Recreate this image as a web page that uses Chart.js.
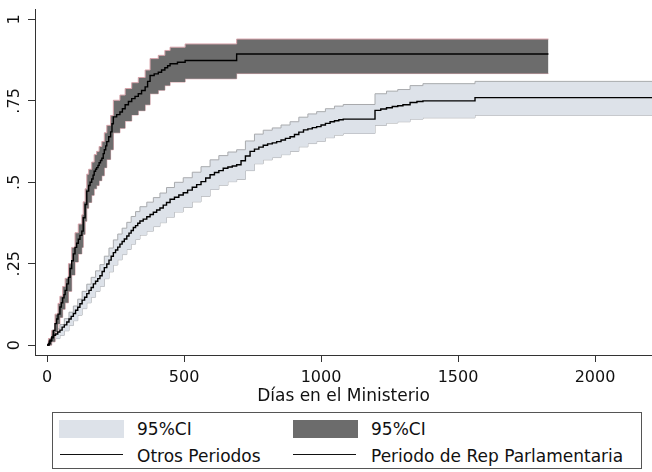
<!DOCTYPE html>
<html>
<head>
<meta charset="utf-8">
<script src="https://cdn.jsdelivr.net/npm/chart.js@4.4.1/dist/chart.umd.min.js"></script>
<style>
  html, body { margin: 0; padding: 0; background: #fff; }
  #wrap { position: relative; width: 652px; height: 472px; }
  #plot { position: absolute; left: 0; top: 0; }
  #legend {
    position: absolute; left: 52px; top: 412px; width: 590px; height: 57px;
    box-sizing: border-box; border: 1px solid #555;
    font-family: "DejaVu Sans", "Liberation Sans", sans-serif;
    font-size: 17px; color: #111;
  }
  #legend .sw { position: absolute; width: 65px; height: 18px; top: 7px; }
  #legend .ln { position: absolute; width: 63px; height: 0; top: 41px; border-top: 1.5px solid #111; }
  #legend .tx { position: absolute; line-height: 20px; white-space: nowrap; letter-spacing: 0; }
</style>
</head>
<body>
<div id="wrap">
  <canvas id="plot" width="652" height="410"></canvas>
  <div id="legend">
    <div class="sw" style="left:6px;background:#dde2e9;"></div>
    <div class="tx" style="left:84px;top:6px;">95%CI</div>
    <div class="sw" style="left:240px;background:#6c6c6c;"></div>
    <div class="tx" style="left:318px;top:6px;">95%CI</div>
    <div class="ln" style="left:7px;"></div>
    <div class="tx" style="left:84px;top:33px;">Otros Periodos</div>
    <div class="ln" style="left:240px;"></div>
    <div class="tx" style="left:318px;top:33px;">Periodo de Rep Parlamentaria</div>
  </div>
</div>
<script>
// tick labels
const xTicks = [0, 500, 1000, 1500, 2000];
const yTicks = [0, 0.25, 0.5, 0.75, 1];
const yTickLabels = ['0', '.25', '.5', '.75', '1'];

// Periodo de Rep Parlamentaria: estimate line
const repDays = [0, 5, 11, 17, 23, 29, 35, 40, 47, 52, 57, 62, 66, 72, 78, 84, 90, 96, 102, 108, 114, 120, 127, 132, 139, 145, 152, 157, 163, 168, 172, 177, 181, 186, 190, 195, 200, 205, 209, 214, 218, 225, 232, 237, 242, 254, 266, 275, 285, 297, 309, 321, 333, 345, 358, 367, 376, 391, 406, 418, 430, 440, 449, 476, 504, 692, 1830];
const repFail = [0, 0.005, 0.015, 0.025, 0.045, 0.066, 0.080, 0.095, 0.117, 0.130, 0.145, 0.155, 0.168, 0.188, 0.208, 0.235, 0.259, 0.280, 0.300, 0.313, 0.325, 0.337, 0.350, 0.391, 0.432, 0.473, 0.490, 0.500, 0.510, 0.522, 0.534, 0.540, 0.545, 0.552, 0.560, 0.567, 0.574, 0.588, 0.600, 0.612, 0.625, 0.640, 0.655, 0.680, 0.701, 0.708, 0.716, 0.726, 0.738, 0.748, 0.757, 0.764, 0.772, 0.782, 0.793, 0.810, 0.828, 0.833, 0.838, 0.845, 0.852, 0.858, 0.864, 0.869, 0.874, 0.894, 0.894];
// its 95% band
const repBandDays = [0, 5, 17, 29, 40, 47, 57, 66, 78, 90, 102, 114, 127, 132, 139, 145, 152, 163, 172, 181, 190, 200, 209, 218, 232, 242, 266, 285, 309, 333, 358, 376, 406, 430, 449, 504, 692, 1830];
const repLo = [0, 0, 0.010, 0.040, 0.065, 0.085, 0.110, 0.130, 0.165, 0.215, 0.255, 0.280, 0.300, 0.340, 0.380, 0.420, 0.438, 0.460, 0.480, 0.490, 0.505, 0.520, 0.545, 0.570, 0.600, 0.652, 0.666, 0.688, 0.707, 0.720, 0.738, 0.772, 0.783, 0.797, 0.808, 0.818, 0.834, 0.834];
const repHi = [0, 0.020, 0.045, 0.095, 0.128, 0.150, 0.180, 0.205, 0.250, 0.300, 0.345, 0.372, 0.400, 0.440, 0.480, 0.525, 0.540, 0.562, 0.585, 0.595, 0.610, 0.625, 0.652, 0.675, 0.705, 0.752, 0.768, 0.788, 0.806, 0.822, 0.845, 0.880, 0.890, 0.905, 0.915, 0.925, 0.940, 0.940];

// Otros Periodos
const otrDays = [0, 8, 16, 23, 31, 39, 47, 55, 63, 72, 80, 88, 96, 104, 112, 120, 128, 137, 145, 153, 161, 169, 177, 185, 193, 201, 209, 218, 226, 234, 242, 250, 258, 266, 274, 282, 291, 299, 307, 315, 323, 331, 339, 351, 364, 376, 388, 400, 412, 424, 436, 449, 465, 481, 497, 513, 530, 546, 562, 579, 595, 611, 627, 643, 660, 676, 692, 708, 724, 741, 757, 773, 789, 805, 822, 838, 854, 870, 887, 903, 919, 936, 952, 968, 984, 1000, 1016, 1033, 1049, 1065, 1081, 1197, 1218, 1239, 1260, 1280, 1299, 1325, 1350, 1372, 1562, 2208];
const otrFail = [0, 0.012, 0.022, 0.030, 0.034, 0.040, 0.046, 0.055, 0.062, 0.071, 0.080, 0.088, 0.097, 0.107, 0.116, 0.127, 0.138, 0.147, 0.158, 0.168, 0.177, 0.188, 0.196, 0.204, 0.213, 0.226, 0.238, 0.249, 0.261, 0.273, 0.284, 0.292, 0.301, 0.310, 0.318, 0.326, 0.335, 0.344, 0.352, 0.361, 0.367, 0.374, 0.381, 0.387, 0.394, 0.401, 0.408, 0.415, 0.421, 0.430, 0.438, 0.448, 0.454, 0.461, 0.468, 0.476, 0.485, 0.493, 0.502, 0.513, 0.523, 0.530, 0.536, 0.543, 0.547, 0.550, 0.554, 0.566, 0.581, 0.595, 0.602, 0.608, 0.614, 0.618, 0.621, 0.625, 0.630, 0.635, 0.640, 0.647, 0.654, 0.661, 0.664, 0.668, 0.671, 0.676, 0.681, 0.686, 0.689, 0.692, 0.694, 0.721, 0.725, 0.729, 0.733, 0.735, 0.738, 0.745, 0.748, 0.750, 0.760, 0.760];
const otrBandDays = [0, 16, 31, 47, 63, 80, 96, 112, 128, 145, 161, 177, 193, 209, 226, 242, 258, 274, 291, 307, 323, 339, 364, 388, 412, 436, 465, 497, 530, 562, 595, 627, 660, 692, 724, 757, 789, 822, 854, 887, 919, 952, 984, 1016, 1049, 1081, 1197, 1239, 1280, 1325, 1372, 1562, 2208];
const otrLo = [0, 0.012, 0.020, 0.030, 0.044, 0.060, 0.075, 0.092, 0.112, 0.130, 0.147, 0.165, 0.180, 0.204, 0.225, 0.246, 0.262, 0.278, 0.294, 0.310, 0.325, 0.338, 0.350, 0.364, 0.376, 0.393, 0.409, 0.423, 0.440, 0.457, 0.478, 0.491, 0.502, 0.509, 0.536, 0.557, 0.569, 0.576, 0.585, 0.595, 0.609, 0.619, 0.626, 0.637, 0.645, 0.650, 0.675, 0.682, 0.686, 0.694, 0.698, 0.706, 0.706];
const otrHi = [0, 0.034, 0.050, 0.063, 0.081, 0.101, 0.120, 0.141, 0.165, 0.187, 0.208, 0.228, 0.247, 0.273, 0.298, 0.323, 0.341, 0.359, 0.377, 0.395, 0.410, 0.425, 0.439, 0.453, 0.467, 0.484, 0.500, 0.514, 0.531, 0.548, 0.569, 0.582, 0.593, 0.600, 0.627, 0.648, 0.660, 0.667, 0.676, 0.686, 0.700, 0.710, 0.717, 0.726, 0.734, 0.739, 0.772, 0.780, 0.785, 0.797, 0.803, 0.810, 0.810];

const pts = (xs, ys) => xs.map((x, i) => ({ x: x, y: ys[i] }));

Chart.defaults.font.family = '"DejaVu Sans", "Liberation Sans", sans-serif';
Chart.defaults.color = '#111';

const lineBase = { stepped: 'before', pointRadius: 0, tension: 0, fill: false };

new Chart(document.getElementById('plot'), {
  type: 'line',
  data: {
    datasets: [
      Object.assign({ label: 'Periodo de Rep Parlamentaria', data: pts(repDays, repFail), borderColor: '#000', borderWidth: 1.4 }, lineBase),
      Object.assign({ label: 'Otros Periodos', data: pts(otrDays, otrFail), borderColor: '#000', borderWidth: 1.4 }, lineBase),
      Object.assign({}, lineBase, { label: '95%CI rep hi', data: pts(repBandDays, repHi), borderColor: '#d7a3aa', borderWidth: 1, backgroundColor: '#6c6c6c', fill: '+1' }),
      Object.assign({ label: '95%CI rep lo', data: pts(repBandDays, repLo), borderColor: '#d7a3aa', borderWidth: 1 }, lineBase),
      Object.assign({}, lineBase, { label: '95%CI otros hi', data: pts(otrBandDays, otrHi), borderColor: '#a9abae', borderWidth: 1, backgroundColor: '#dde2e9', fill: '+1' }),
      Object.assign({ label: '95%CI otros lo', data: pts(otrBandDays, otrLo), borderColor: '#a9abae', borderWidth: 1 }, lineBase)
    ]
  },
  options: {
    responsive: false,
    animation: false,
    layout: { padding: { top: 7, right: 0, bottom: 0, left: 0 } },
    plugins: { legend: { display: false }, tooltip: { enabled: false } },
    scales: {
      x: {
        type: 'linear',
        min: -44, max: 2208,
        afterBuildTicks: s => { s.ticks = xTicks.map(v => ({ value: v })); },
        afterFit: s => { s.height = 55; },
        grid: { drawOnChartArea: false, drawTicks: true, tickLength: 7, color: '#333' },
        border: { color: '#333', width: 1 },
        ticks: { font: { size: 16 }, color: '#111', padding: 6, maxRotation: 0, callback: v => String(v) },
        title: { display: true, text: 'Días en el Ministerio', font: { size: 17 }, color: '#111', padding: { top: 0, bottom: 3 } }
      },
      y: {
        type: 'linear',
        min: -0.0305, max: 1.0305,
        afterBuildTicks: s => { s.ticks = yTicks.map(v => ({ value: v })); },
        afterFit: s => { s.width = 35; },
        grid: { drawOnChartArea: false, drawTicks: true, tickLength: 7, color: '#333' },
        border: { color: '#333', width: 1 },
        ticks: {
          font: { size: 16 }, color: '#111', padding: 0,
          minRotation: 90, maxRotation: 90, crossAlign: 'center',
          callback: (v, i) => yTickLabels[i]
        }
      }
    }
  }
});
</script>
</body>
</html>
